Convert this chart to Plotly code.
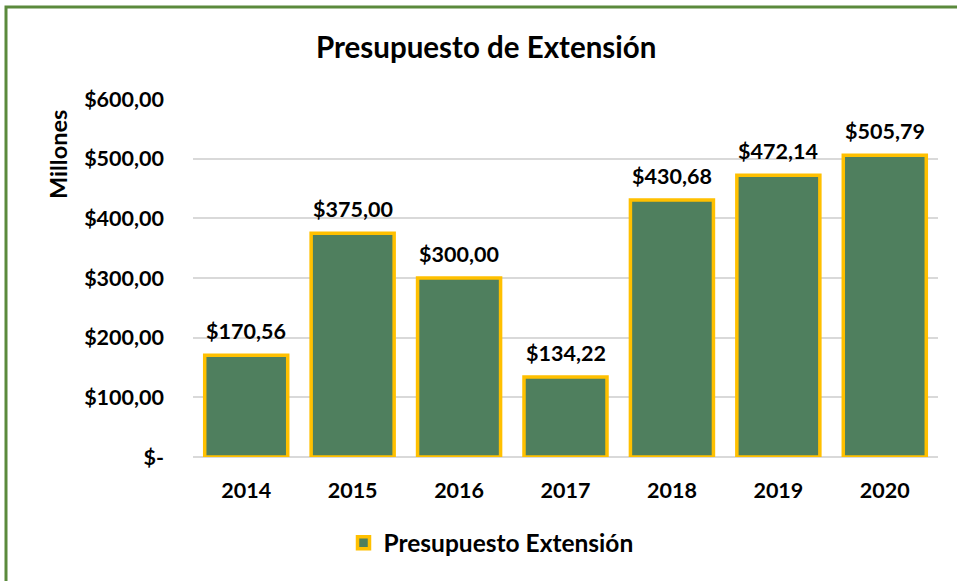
import plotly.graph_objects as go

years = ["2014", "2015", "2016", "2017", "2018", "2019", "2020"]
values = [170.56, 375.00, 300.00, 134.22, 430.68, 472.14, 505.79]
value_labels = ["$170,56", "$375,00", "$300,00", "$134,22", "$430,68", "$472,14", "$505,79"]
y_tick_vals = [0, 100, 200, 300, 400, 500, 600]
y_tick_text = ["$-", "$100,00", "$200,00", "$300,00", "$400,00", "$500,00", "$600,00"]
series_name = "Presupuesto Extensión"

FONT = "Lato"

fig = go.Figure()
fig.add_trace(go.Bar(
    x=years, y=values, name=series_name,
    marker=dict(color="#4f7f5e", line=dict(color="#ffc000", width=3.5)),
))

# numeric-looking category names are read as indices by annotations, so use the index
label_annotations = [
    dict(x=i, y=v, text="<b>%s</b>" % t, xref="x", yref="y", showarrow=False,
         xanchor="center", yanchor="bottom", yshift=9,
         font=dict(family=FONT, size=21.5, color="#000000"))
    for i, (v, t) in enumerate(zip(values, value_labels))
]

fig.update_layout(
    width=957, height=581,
    margin=dict(l=193, r=19, t=99, b=124),
    paper_bgcolor="white", plot_bgcolor="white",
    bargap=0.22,
    showlegend=True,
    title=dict(text="<b>Presupuesto de Extensión</b>", x=0.508, xanchor="center",
               y=1 - 48/581, yanchor="middle",
               font=dict(family=FONT, size=29.5, color="#000000")),
    legend=dict(orientation="h", x=0.40, xanchor="center", y=-0.24, yanchor="middle",
                font=dict(family=FONT, size=24.5, color="#000000", weight="bold")),
    xaxis=dict(type="category", range=[-0.5, len(years) - 0.5],
               showgrid=False, showline=False, ticks="", ticklabelstandoff=18,
               tickfont=dict(family=FONT, size=21.5, color="#000000", weight="bold")),
    yaxis=dict(range=[0, 600], tickvals=y_tick_vals, ticktext=y_tick_text,
               showgrid=True, gridcolor="#d9d9d9", gridwidth=1.5,
               zeroline=True, zerolinecolor="#d9d9d9", zerolinewidth=1.5,
               ticks="", ticklabelstandoff=28,
               tickfont=dict(family=FONT, size=21.5, color="#000000", weight="bold")),
    annotations=label_annotations + [
        dict(text="<b>Millones</b>", xref="paper", yref="paper",
             x=-(193-58)/745, y=(457-155)/358, xanchor="center", yanchor="middle",
             textangle=-90, showarrow=False,
             font=dict(family=FONT, size=23.5, color="#000000"))],
    shapes=[dict(type="rect", xref="paper", yref="paper",
                 x0=-(193-6)/745, x1=(957-193+10)/745,
                 y0=-(581-457+10)/358, y1=(457-7)/358,
                 line=dict(color="#5b8a3c", width=3), fillcolor="rgba(0,0,0,0)",
                 layer="below")],
)

fig.write_html("out.html", config={"displayModeBar": False},
               post_script="document.body.style.margin='0';document.body.style.overflow='hidden';")
